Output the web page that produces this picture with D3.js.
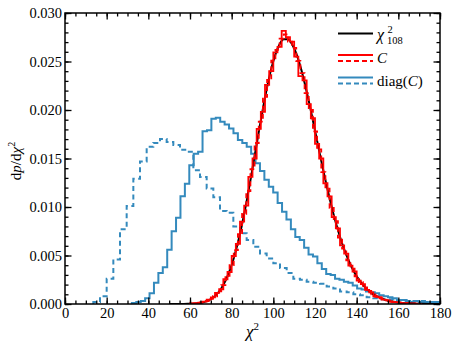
<!DOCTYPE html>
<html lang="en">
<head>
<meta charset="UTF-8">
<title>chi2 distributions</title>
<script src="https://cdn.jsdelivr.net/npm/d3@7"></script>
<style>
  body { margin: 0; background: #fff; }
</style>
</head>
<body>
<script>
// chi^2 with 108 dof
const chiX = [50, 55, 57, 59, 61, 63, 65, 67, 69, 71, 73, 75, 77, 79, 81, 83, 85, 87, 89, 91, 93, 95, 97, 99,
  101, 103, 105, 107, 109, 111, 113, 115, 117, 119, 121, 123, 125, 127, 129, 131, 133, 135, 137, 139,
  141, 143, 145, 147, 149, 151, 153, 155, 157, 159, 161, 163, 165, 167, 169, 171, 175, 180];
const chiY = [0, 0.000002, 0.000005, 0.000015, 0.00003, 0.00006, 0.00012, 0.00022, 0.00039, 0.00065, 0.00104,
  0.0016, 0.00238, 0.00341, 0.00472, 0.00633, 0.00822, 0.01037, 0.01274, 0.01522, 0.01772, 0.02014,
  0.02235, 0.02424, 0.02573, 0.02678, 0.02729, 0.02729, 0.02678, 0.02583, 0.02448, 0.02282, 0.02094,
  0.01891, 0.01684, 0.01476, 0.01277, 0.0109, 0.00918, 0.00763, 0.00626, 0.00508, 0.00407, 0.00323,
  0.00254, 0.00197, 0.00151, 0.00115, 0.00087, 0.00065, 0.00048, 0.00035, 0.00025, 0.00018, 0.00013,
  0.00009, 0.000065, 0.000045, 0.00003, 0.00002, 0.000005, 0];

// C histograms
const cSolidStart = 60, cSolidWidth = 2;
const cSolid = [0.00005, 0.00008, 0.00015, 0.00024, 0.00045, 0.00068, 0.00115, 0.00152, 0.00255, 0.0033,
  0.00495, 0.0062, 0.0085, 0.01015, 0.0131, 0.015, 0.01805, 0.0198, 0.0226, 0.024, 0.02595, 0.0265,
  0.02815, 0.0275, 0.02705, 0.0255, 0.0235, 0.02305, 0.0206, 0.01915, 0.0165, 0.015, 0.01245, 0.0111,
  0.00895, 0.0078, 0.00605, 0.0052, 0.00395, 0.00335, 0.0024, 0.00205, 0.00145, 0.0012, 0.0008, 0.0007,
  0.00045, 0.00038, 0.00022, 0.0002, 0.00011, 0.0001, 0.00005, 0.00005, 0.00002];
const cDashStart = 61, cDashWidth = 2;
const cDashed = [0.00004, 0.00009, 0.00016, 0.0003, 0.00052, 0.0008, 0.0013, 0.00195, 0.0029, 0.004,
  0.00555, 0.0072, 0.0093, 0.01165, 0.0139, 0.0166, 0.0188, 0.02135, 0.0231, 0.0251, 0.0262, 0.02735,
  0.0278, 0.02705, 0.0264, 0.02505, 0.0238, 0.02175, 0.02, 0.0178, 0.01595, 0.0136, 0.0119, 0.0099,
  0.00855, 0.00685, 0.0057, 0.0045, 0.00365, 0.00285, 0.00225, 0.0017, 0.00135, 0.001, 0.00075,
  0.00058, 0.0004, 0.0003, 0.00022, 0.00016, 0.00011, 0.00008, 0.00005, 0.00004, 0.00002];

// diag(C) histograms
const dSolidStart = 32.1, dSolidWidth = 2.12;
const dSolid = [0.0001, 0.0002, 0.0003, 0.0006, 0.0011, 0.0022, 0.0032, 0.0038, 0.0056, 0.0075,
  0.0089, 0.0111, 0.0124, 0.0143, 0.0155, 0.0157, 0.0178, 0.0179, 0.0191, 0.0192,
  0.0188, 0.0185, 0.0181, 0.0176, 0.0169, 0.0166, 0.0162, 0.0155, 0.0145, 0.0137,
  0.0128, 0.0121, 0.0115, 0.0104, 0.0095, 0.0087, 0.0077, 0.0069, 0.0066, 0.0058,
  0.0051, 0.0049, 0.0042, 0.0036, 0.0031, 0.0030, 0.0026, 0.0025, 0.0023, 0.0022,
  0.0019, 0.0016, 0.0015, 0.0013, 0.0012, 0.0011, 0.0009, 0.0008, 0.0007, 0.0006,
  0.0004, 0.0004, 0.0003, 0.0002, 0.0003, 0.0002, 0.0002, 0.0001, 0.0002, 0.0001];
const dDashStart = 13.6, dDashWidth = 3.2;
const dDashed = [0.0002, 0.0008, 0.0026, 0.0046, 0.0077, 0.0101, 0.0129, 0.0147, 0.0162, 0.0166,
  0.0170, 0.0167, 0.0164, 0.0159, 0.0157, 0.0138, 0.0131, 0.0119, 0.0110, 0.0096,
  0.0094, 0.0080, 0.0073, 0.0066, 0.0059, 0.0052, 0.0047, 0.0042, 0.0037, 0.0032,
  0.0026, 0.0025, 0.0023, 0.0022, 0.0021, 0.0018, 0.0016, 0.0013, 0.0012, 0.0010,
  0.0009, 0.0007, 0.0006, 0.0005, 0.0005, 0.0004, 0.0004, 0.0003, 0.0003, 0.0003,
  0.0002, 0.0002];

const xTicks = [0, 20, 40, 60, 80, 100, 120, 140, 160, 180];
const yTicks = [0, 0.005, 0.010, 0.015, 0.020, 0.025, 0.030];

const W = 458, H = 352;
const padL = 65, padR = 440, padT = 13, padB = 304;
const font = "'Liberation Serif','DejaVu Serif',serif";
const blue = '#348abd';

const svg = d3.select('body').append('svg')
  .attr('width', W).attr('height', H);

const x = d3.scaleLinear().domain([0, 180]).range([padL, padR]);
const y = d3.scaleLinear().domain([0, 0.03]).range([padB, padT]);

svg.append('clipPath').attr('id', 'clip')
  .append('rect').attr('x', padL).attr('y', padT - 5)
  .attr('width', padR - padL).attr('height', padB - padT + 5);

// histogram outline points
function steps(start, w, vals) {
  let pts = [[start, 0]];
  vals.forEach((v, i) => pts.push([start + i * w, v]));
  let end = start + vals.length * w;
  pts.push([end, vals[vals.length - 1]]);
  pts.push([end, 0]);
  return pts;
}

const stepLine = d3.line()
  .x(d => x(d[0])).y(d => y(d[1]))
  .curve(d3.curveStepAfter);
const smoothLine = d3.line()
  .x(d => x(d[0])).y(d => y(d[1]))
  .curve(d3.curveMonotoneX);

const plot = svg.append('g').attr('clip-path', 'url(#clip)');

plot.append('path')
  .attr('d', stepLine(steps(dDashStart, dDashWidth, dDashed)))
  .attr('fill', 'none').attr('stroke', blue).attr('stroke-width', 2)
  .attr('stroke-dasharray', '5,3.5');
plot.append('path')
  .attr('d', stepLine(steps(dSolidStart, dSolidWidth, dSolid)))
  .attr('fill', 'none').attr('stroke', blue).attr('stroke-width', 2);
plot.append('path')
  .attr('d', smoothLine(chiX.map((v, i) => [v, chiY[i]])))
  .attr('fill', 'none').attr('stroke', '#000').attr('stroke-width', 2);
plot.append('path')
  .attr('d', stepLine(steps(cDashStart, cDashWidth, cDashed)))
  .attr('fill', 'none').attr('stroke', '#ff0000').attr('stroke-width', 1.8)
  .attr('stroke-dasharray', '5,3');
plot.append('path')
  .attr('d', stepLine(steps(cSolidStart, cSolidWidth, cSolid)))
  .attr('fill', 'none').attr('stroke', '#ff0000').attr('stroke-width', 1.8);

// axes, ticks pointing inwards on all four sides
const xMinor = d3.range(0, 181, 5);
const yMinor = d3.range(0, 0.0301, 0.001);

function styleAxis(g) {
  g.select('.domain').remove();
  g.selectAll('line').attr('stroke', '#000').attr('stroke-width', 1.3);
  g.attr('font-family', font).attr('font-size', 14.5);
  g.selectAll('text').attr('fill', '#000');
}

svg.append('g').attr('transform', `translate(0,${padB})`)
  .call(d3.axisBottom(x).tickValues(xMinor).tickSize(-3.5).tickFormat(''))
  .call(styleAxis);
svg.append('g').attr('transform', `translate(0,${padB})`)
  .call(d3.axisBottom(x).tickValues(xTicks).tickSize(-6.5).tickPadding(4).tickFormat(d3.format('d')))
  .call(styleAxis);
svg.append('g').attr('transform', `translate(0,${padT})`)
  .call(d3.axisTop(x).tickValues(xMinor).tickSize(-3.5).tickFormat(''))
  .call(styleAxis);
svg.append('g').attr('transform', `translate(0,${padT})`)
  .call(d3.axisTop(x).tickValues(xTicks).tickSize(-6.5).tickFormat(''))
  .call(styleAxis);

svg.append('g').attr('transform', `translate(${padL},0)`)
  .call(d3.axisLeft(y).tickValues(yMinor).tickSize(-3.5).tickFormat(''))
  .call(styleAxis);
svg.append('g').attr('transform', `translate(${padL},0)`)
  .call(d3.axisLeft(y).tickValues(yTicks).tickSize(-6.5).tickPadding(3).tickFormat(d3.format('.3f')))
  .call(styleAxis);
svg.append('g').attr('transform', `translate(${padR},0)`)
  .call(d3.axisRight(y).tickValues(yMinor).tickSize(-3.5).tickFormat(''))
  .call(styleAxis);
svg.append('g').attr('transform', `translate(${padR},0)`)
  .call(d3.axisRight(y).tickValues(yTicks).tickSize(-6.5).tickFormat(''))
  .call(styleAxis);

svg.append('rect')
  .attr('x', padL).attr('y', padT)
  .attr('width', padR - padL).attr('height', padB - padT)
  .attr('fill', 'none').attr('stroke', '#000').attr('stroke-width', 1.5);

// axis labels
svg.append('text')
  .attr('x', (padL + padR) / 2).attr('y', 337)
  .attr('text-anchor', 'middle')
  .attr('font-family', font).attr('font-size', 17)
  .html('<tspan font-style="italic">χ</tspan><tspan dy="-7" font-size="11">2</tspan>');

svg.append('text')
  .attr('transform', 'translate(21,161) rotate(-90)')
  .attr('text-anchor', 'middle')
  .attr('font-family', font).attr('font-size', 15)
  .html('d<tspan font-style="italic">p</tspan>/d<tspan font-style="italic">χ</tspan><tspan dy="-6" font-size="10">2</tspan>');

// legend
const lx0 = 338, lx1 = 373;
const legend = svg.append('g');
function legLine(yy, color, dash) {
  legend.append('line')
    .attr('x1', lx0).attr('x2', lx1).attr('y1', yy).attr('y2', yy)
    .attr('stroke', color).attr('stroke-width', 2)
    .attr('stroke-dasharray', dash || null);
}
legLine(33.5, '#000');
legLine(55, '#ff0000');
legLine(61, '#ff0000', '5,3');
legLine(77.5, blue);
legLine(83.5, blue, '5,3');

legend.append('text').attr('x', 377).attr('y', 40)
  .attr('font-family', font).attr('font-size', 16).attr('font-style', 'italic').text('χ');
legend.append('text').attr('x', 387.5).attr('y', 33)
  .attr('font-family', font).attr('font-size', 10.5).text('2');
legend.append('text').attr('x', 387).attr('y', 44)
  .attr('font-family', font).attr('font-size', 10.5).text('108');
legend.append('text').attr('x', 377).attr('y', 63)
  .attr('font-family', font).attr('font-size', 15).attr('font-style', 'italic').text('C');
legend.append('text').attr('x', 377).attr('y', 86)
  .attr('font-family', font).attr('font-size', 15)
  .html('diag(<tspan font-style="italic">C</tspan>)');
</script>
</body>
</html>
